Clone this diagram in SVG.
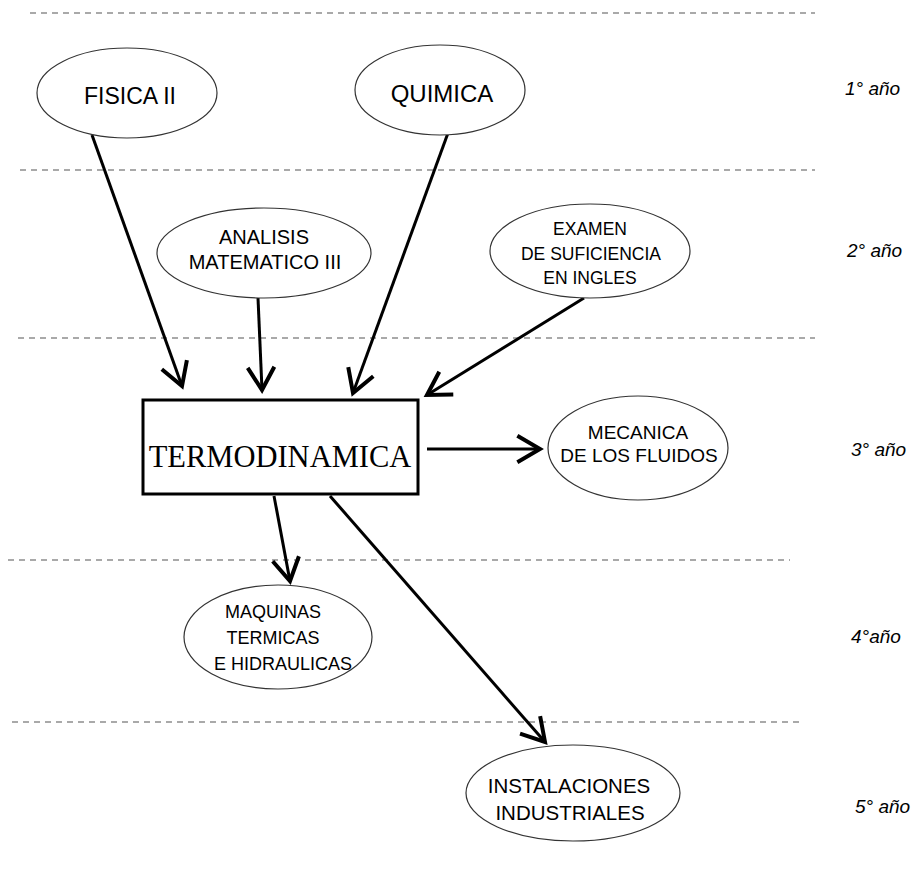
<svg xmlns="http://www.w3.org/2000/svg" width="914" height="887" viewBox="0 0 914 887">
<style>
.bg{fill:#fff}
.div{stroke:#555;stroke-width:1.2;stroke-dasharray:6 5;fill:none}
.ell{fill:#fff;stroke:#333;stroke-width:1.2}
.box{fill:#fff;stroke:#000;stroke-width:3}
.t{font-family:"Liberation Sans",Arial,sans-serif;fill:#000;text-anchor:middle}
.s{font-family:"Liberation Serif",serif;fill:#000;text-anchor:middle}
.yr{font-family:"Liberation Sans",Arial,sans-serif;font-style:italic;font-size:19px;fill:#000}
.con line{stroke:#000;stroke-width:3;fill:none}
</style>
<defs>
<marker id="ah" markerUnits="userSpaceOnUse" markerWidth="32" markerHeight="32" refX="19" refY="11" orient="auto" viewBox="0 0 24 22">
<path d="M2,1 L19,11 L2,21" fill="none" stroke="#000" stroke-width="3"/>
</marker>
</defs>
<rect class="bg" x="0" y="0" width="914" height="887"/>
<g id="dividers">
<line class="div" x1="30" y1="13" x2="815" y2="13"/>
<line class="div" x1="20" y1="170" x2="815" y2="170"/>
<line class="div" x1="18" y1="338" x2="815" y2="338"/>
<line class="div" x1="8" y1="560" x2="790" y2="560"/>
<line class="div" x1="12" y1="722" x2="800" y2="722"/>
</g>
<g id="years">
<text class="yr" x="845" y="95">1° año</text>
<text class="yr" x="847" y="257">2° año</text>
<text class="yr" x="851" y="456">3° año</text>
<text class="yr" x="851" y="643">4°año</text>
<text class="yr" x="855" y="813">5° año</text>
</g>
<g id="connectors" class="con">
<line x1="92" y1="135" x2="182" y2="386" marker-end="url(#ah)"/>
<line x1="258" y1="298" x2="262" y2="390" marker-end="url(#ah)"/>
<line x1="448" y1="133" x2="353" y2="393" marker-end="url(#ah)"/>
<line x1="584" y1="298" x2="427" y2="395" marker-end="url(#ah)"/>
<line x1="427" y1="449" x2="540" y2="449" marker-end="url(#ah)"/>
<line x1="274" y1="496" x2="290" y2="581" marker-end="url(#ah)"/>
<line x1="330" y1="496" x2="545" y2="742" marker-end="url(#ah)"/>
</g>
<g id="fisica">
<ellipse class="ell" cx="127" cy="93" rx="90" ry="45"/>
<text class="t" x="130" y="104" font-size="23">FISICA II</text>
</g>
<g id="quimica">
<ellipse class="ell" cx="440" cy="90" rx="85" ry="45"/>
<text class="t" x="442" y="102" font-size="24">QUIMICA</text>
</g>
<g id="analisis">
<ellipse class="ell" cx="264" cy="253" rx="107" ry="45"/>
<text class="t" x="264" y="244" font-size="20">ANALISIS</text>
<text class="t" x="265" y="269" font-size="20">MATEMATICO III</text>
</g>
<g id="examen">
<ellipse class="ell" cx="590" cy="251" rx="100" ry="47"/>
<text class="t" x="590" y="235" font-size="17.5">EXAMEN</text>
<text class="t" x="591" y="260" font-size="17.5">DE SUFICIENCIA</text>
<text class="t" x="590" y="284" font-size="17.5">EN INGLES</text>
</g>
<g id="termodinamica">
<rect class="box" x="143" y="400" width="275" height="94"/>
<text class="s" x="280" y="467" font-size="30.5">TERMODINAMICA</text>
</g>
<g id="mecanica">
<ellipse class="ell" cx="638" cy="448" rx="90" ry="52"/>
<text class="t" x="638" y="439" font-size="19">MECANICA</text>
<text class="t" x="639" y="462" font-size="19">DE LOS FLUIDOS</text>
</g>
<g id="maquinas">
<ellipse class="ell" cx="278" cy="637" rx="94" ry="52"/>
<text class="t" x="273" y="618" font-size="18">MAQUINAS</text>
<text class="t" x="273" y="644" font-size="18">TERMICAS</text>
<text class="t" x="283" y="670" font-size="18">E HIDRAULICAS</text>
</g>
<g id="instalaciones">
<ellipse class="ell" cx="573" cy="793" rx="107" ry="48"/>
<text class="t" x="569" y="793" font-size="20.5">INSTALACIONES</text>
<text class="t" x="570" y="820" font-size="20.5">INDUSTRIALES</text>
</g>
</svg>
